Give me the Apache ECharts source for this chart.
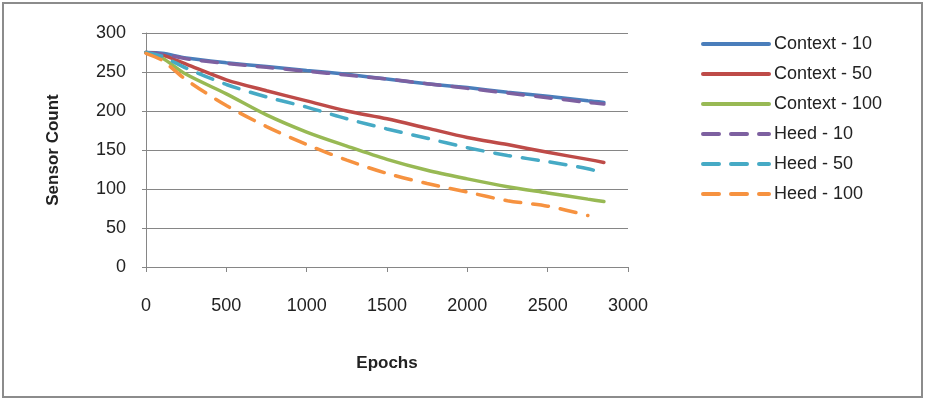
<!DOCTYPE html>
<html>
<head>
<meta charset="utf-8">
<script src="https://cdn.jsdelivr.net/npm/echarts@6/dist/echarts.min.js"></script>
<style>
  html, body { margin: 0; padding: 0; background: #fff; }
  #main { width: 926px; height: 401px; }
</style>
</head>
<body>
<div id="main"></div>
<script>
var epochs = [0, 100, 250, 500, 750, 1000, 1250, 1500, 1750, 2000, 2250, 2500, 2750, 2850];
var context10 = [275, 274, 268, 262, 257, 252, 247, 241, 235, 230, 224, 219, 213, 211];
var context50 = [275, 272, 260, 240, 226, 213, 200, 190, 178, 166, 157, 147, 138, 134];
var context100 = [275, 268, 247, 222, 195, 173, 155, 138, 124, 113, 103, 95, 87, 84];
var heed10 = [275, 273, 267, 261, 256, 251, 246, 241, 235, 229, 223, 217, 211, 209];
var heed50 = [275, 270, 255, 234, 218, 205, 190, 177, 165, 153, 143, 135, 126, 120];
var heed100 = [274, 265, 240, 207, 180, 157, 137, 120, 107, 96, 85, 78, 66];

var names = ['Context - 10', 'Context - 50', 'Context - 100', 'Heed - 10', 'Heed - 50', 'Heed - 100'];
var colors = ['#4a7ebb', '#be4b48', '#98b954', '#7d60a0', '#46aac5', '#f69240'];
var values = [context10, context50, context100, heed10, heed50, heed100];

function pairs(ys) {
  return ys.map(function (y, i) { return [epochs[i], y]; });
}

var chart = echarts.init(document.getElementById('main'));

var series = values.map(function (ys, i) {
  var dashed = i >= 3;
  return {
    name: names[i],
    type: 'line',
    data: pairs(ys),
    showSymbol: false,
    symbol: 'none',
    smooth: 0.3,
    z: dashed ? 3 : 2,
    lineStyle: {
      color: colors[i],
      width: 3.5,
      type: dashed ? [16, 12] : 'solid',
      cap: 'round'
    },
    itemStyle: { color: colors[i] }
  };
});

var option = {
  backgroundColor: '#ffffff',
  animation: false,
  textStyle: { fontFamily: 'Liberation Sans', color: '#222' },
  graphic: [{
    type: 'rect',
    shape: { x: 3, y: 3, width: 919, height: 394 },
    style: { fill: 'none', stroke: '#8c8c8c', lineWidth: 2 }
  }],
  grid: { left: 146, right: 298, top: 33, bottom: 134 },
  legend: {
    orient: 'vertical',
    left: 696,
    top: 30,
    itemWidth: 66,
    itemHeight: 14,
    itemGap: 12,
    data: names,
    itemStyle: { opacity: 0 },
    lineStyle: { width: 4 },
    textStyle: { fontSize: 18, color: '#222' }
  },
  xAxis: {
    type: 'value',
    min: 0,
    max: 3000,
    interval: 500,
    name: 'Epochs',
    nameLocation: 'middle',
    nameGap: 88,
    nameTextStyle: { fontSize: 17, fontWeight: 'bold', color: '#222' },
    axisLine: { show: true, lineStyle: { color: '#868686', width: 1 } },
    axisTick: { show: true, length: 5, lineStyle: { color: '#868686' } },
    axisLabel: { fontSize: 18, color: '#222', margin: 30, formatter: function (v) { return String(v); } },
    splitLine: { show: false }
  },
  yAxis: {
    type: 'value',
    min: 0,
    max: 300,
    interval: 50,
    name: 'Sensor Count',
    nameLocation: 'middle',
    nameGap: 84,
    nameTextStyle: { fontSize: 17, fontWeight: 'bold', color: '#222' },
    axisLine: { show: true, lineStyle: { color: '#868686', width: 1 } },
    axisTick: { show: true, length: 4, lineStyle: { color: '#868686' } },
    axisLabel: { fontSize: 18, color: '#222', margin: 20 },
    splitLine: { show: true, lineStyle: { color: '#868686', width: 1 } }
  },
  series: series
};

chart.setOption(option);
</script>
</body>
</html>
